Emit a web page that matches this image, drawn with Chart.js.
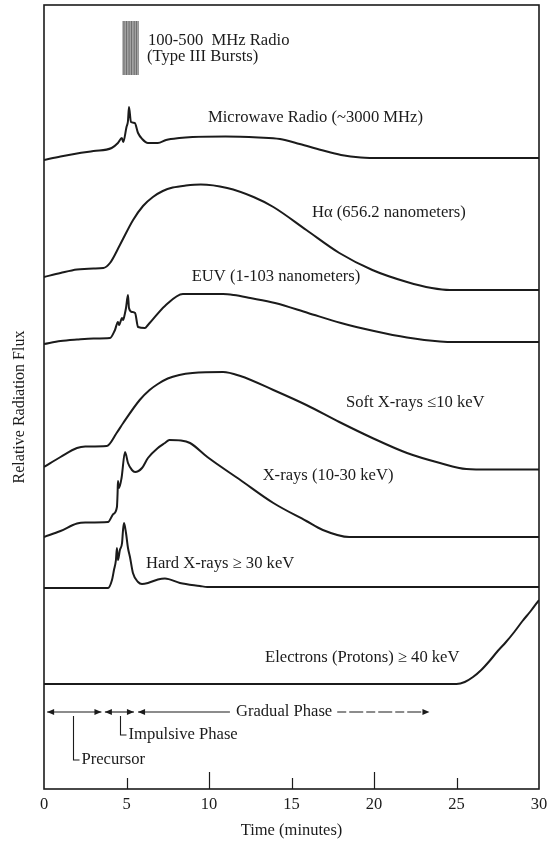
<!DOCTYPE html>
<html>
<head>
<meta charset="utf-8">
<script src="https://cdn.jsdelivr.net/npm/chart.js@4.4.1/dist/chart.umd.min.js"></script>
<style>
  html, body { margin: 0; padding: 0; background: #ffffff; }
  canvas { display: block; }
</style>
</head>
<body>
<canvas id="flare" width="548" height="845"></canvas>
<script>
// Time axis (minutes)
const timeTicks = [0, 5, 10, 15, 20, 25, 30];

// Relative flux curves, [minutes, flux] pairs, each curve on its own offset
const microwave = [
  [0, 629], [1, 632.5], [2, 635.5], [3, 638], [4.1, 641], [4.48, 646], [4.72, 651], [4.8, 647],
  [5.0, 662], [5.09, 668], [5.15, 682], [5.27, 667], [5.5, 666], [5.7, 656], [5.95, 650],
  [6.3, 646], [6.9, 646], [7.4, 649], [8.2, 651], [9, 652], [11, 652.5], [13, 651.5],
  [14.3, 650], [15.5, 645], [16.8, 639], [18, 634], [19.2, 631.5], [20.5, 631], [30, 631]
];
const hAlpha = [
  [0, 512], [1, 516], [2, 519.5], [3, 520.5], [3.6, 521], [4.0, 526], [4.6, 544], [5.4, 569],
  [6.0, 583], [6.6, 592], [7.2, 598], [7.8, 601.5], [8.6, 603.5], [9.5, 604.5], [11.1, 601],
  [12.7, 592], [13.9, 582], [15.9, 559], [17.9, 536], [19.9, 519], [22, 507], [23.5, 501],
  [24.6, 499], [30, 499]
];
const euv = [
  [0, 445], [1, 448], [2, 449.5], [3, 450.5], [4.0, 451], [4.3, 459], [4.48, 467], [4.55, 464],
  [4.73, 471], [4.79, 469], [4.91, 476], [4.97, 481], [5.09, 494], [5.15, 481], [5.33, 477],
  [5.52, 476], [5.7, 462], [6.12, 461], [6.3, 464], [7.33, 483], [8.42, 495], [10.85, 495],
  [11.5, 494], [12.5, 491], [14, 486], [16, 476], [18, 466], [20, 458], [22, 451.5],
  [24, 447.5], [25, 447], [30, 447]
];
const softXray = [
  [0, 322], [1, 332], [2, 341], [2.5, 342.5], [3.8, 343], [4.4, 356], [4.8, 366], [5.8, 389],
  [6.4, 399], [6.9, 405], [7.5, 410.5], [8.2, 414], [9, 416], [10.85, 417], [11.9, 413],
  [13.9, 399], [15.9, 384], [17.9, 367], [19.9, 351], [22, 336], [24, 326], [25.6, 320],
  [27, 319.5], [30, 319.5]
];
const xray = [
  [0, 252], [1, 258], [2, 265.5], [2.5, 266.5], [3.88, 267], [4.2, 275], [4.42, 282], [4.46, 296],
  [4.48, 308], [4.55, 301], [4.7, 311], [4.91, 337], [5.09, 326], [5.33, 319], [5.52, 317],
  [5.94, 321], [6.3, 331], [6.9, 341], [7.33, 346], [7.6, 349], [8.3, 348.5], [8.85, 346],
  [9.9, 332], [11.9, 309], [13.9, 286], [15.9, 268], [16.9, 259], [18.5, 252], [30, 252]
];
const hardXray = [
  [0, 201], [3.88, 201], [4.12, 209], [4.24, 219], [4.36, 229], [4.42, 241], [4.48, 229],
  [4.6, 239], [4.73, 246], [4.79, 259], [4.85, 266], [4.97, 256], [5.09, 241], [5.21, 232],
  [5.39, 216], [5.7, 207], [5.94, 205], [6.3, 206], [6.9, 209.5], [7.33, 210.5], [8.24, 206],
  [9.45, 203], [9.9, 202], [30, 202]
];
const electrons = [
  [0, 105], [25, 105], [25.5, 107], [26, 112], [26.5, 119], [27, 128], [27.5, 138],
  [28, 147], [28.5, 157], [29, 168], [29.5, 178], [30, 189]
];

// Type III radio bursts: individual burst times and the flux band they span
const burstTimes = [4.8, 4.9, 5.0, 5.1, 5.2, 5.3, 5.4, 5.5, 5.6, 5.7];
const burstLow = 714;
const burstHigh = 768;

// Flare phases (minutes)
const phaseNames = ['Precursor', 'Impulsive Phase', 'Gradual Phase'];
const phaseStart = [0.19, 3.69, 5.70];
const phaseEnd = [3.48, 5.45, 23.36];

const ink = '#1b1b1b';
const serif = '"Liberation Serif", "Times New Roman", serif';

const toXY = arr => arr.map(([x, y]) => ({ x, y }));

function burstSegments() {
  const pts = [];
  burstTimes.forEach(t => {
    pts.push({ x: t, y: burstLow }, { x: t, y: burstHigh }, { x: t, y: null });
  });
  return pts;
}

function arrowHead(ctx, x, y, dir) {
  ctx.beginPath();
  ctx.moveTo(x, y);
  ctx.lineTo(x - dir * 7, y - 3);
  ctx.lineTo(x - dir * 7, y + 3);
  ctx.closePath();
  ctx.fill();
}

// Frame, inward ticks, axis caption, curve captions and the phase arrows
const decor = {
  id: 'decor',
  afterDatasetsDraw(chart, args, opts) {
    const { ctx, chartArea: a, scales: { x, y } } = chart;
    ctx.save();
    ctx.strokeStyle = ink;
    ctx.fillStyle = ink;
    ctx.lineWidth = 1.6;
    ctx.strokeRect(a.left, a.top, a.right - a.left, a.bottom - a.top);

    ctx.lineWidth = 1.2;
    x.ticks.forEach(tk => {
      if (tk.value <= x.min || tk.value >= x.max) return;
      const px = Math.round(x.getPixelForValue(tk.value)) + 0.5;
      const len = tk.value % 10 === 0 ? opts.majorTick : opts.minorTick;
      ctx.beginPath();
      ctx.moveTo(px, a.bottom);
      ctx.lineTo(px, a.bottom - len);
      ctx.stroke();
    });

    // vertical axis caption
    ctx.save();
    ctx.font = opts.yTitleFont;
    ctx.textAlign = 'center';
    ctx.textBaseline = 'middle';
    ctx.translate(opts.yTitleX, y.getPixelForValue(opts.yTitleV));
    ctx.rotate(-Math.PI / 2);
    ctx.fillText(opts.yTitle, 0, 0);
    ctx.restore();

    ctx.font = opts.font;
    ctx.textBaseline = 'middle';
    ctx.textAlign = 'left';
    opts.captions.forEach(c => {
      ctx.fillText(c.text, x.getPixelForValue(c.t), y.getPixelForValue(c.v));
    });

    // phase arrows
    const ay = y.getPixelForValue(opts.phaseLevel);
    ctx.lineWidth = 1.1;
    for (let i = 0; i < phaseNames.length; i++) {
      const x1 = x.getPixelForValue(phaseStart[i]);
      const x2 = x.getPixelForValue(phaseEnd[i]);
      if (i < 2) {
        ctx.beginPath(); ctx.moveTo(x1, ay); ctx.lineTo(x2, ay); ctx.stroke();
      } else {
        const w = ctx.measureText(phaseNames[i]).width;
        const cx = x.getPixelForValue(opts.gradualCenter);
        ctx.textAlign = 'center';
        ctx.fillText(phaseNames[i], cx, ay);
        ctx.textAlign = 'left';
        ctx.beginPath(); ctx.moveTo(x1, ay); ctx.lineTo(cx - w / 2 - 6, ay); ctx.stroke();
        ctx.setLineDash([9, 3, 14, 3]);
        ctx.beginPath(); ctx.moveTo(cx + w / 2 + 5, ay); ctx.lineTo(x2 - 4, ay); ctx.stroke();
        ctx.setLineDash([]);
      }
      arrowHead(ctx, x1, ay, -1);
      arrowHead(ctx, x2, ay, 1);
    }

    // leaders to the precursor and impulsive labels
    opts.leaders.forEach(l => {
      const lx = Math.round(x.getPixelForValue(l.t)) + 0.5;
      const ly = y.getPixelForValue(l.v);
      ctx.beginPath();
      ctx.moveTo(lx, ay + 4);
      ctx.lineTo(lx, ly);
      ctx.lineTo(lx + 6, ly);
      ctx.stroke();
      ctx.fillText(phaseNames[l.phase], lx + 8, ly);
    });
    ctx.restore();
  }
};

const curve = (data) => ({
  data: toXY(data),
  borderColor: ink,
  borderWidth: 2,
  pointRadius: 0,
  cubicInterpolationMode: 'monotone',
  fill: false
});

new Chart(document.getElementById('flare'), {
  type: 'line',
  data: {
    datasets: [
      {
        data: burstSegments(),
        borderColor: '#6f6f6f',
        borderWidth: 1.3,
        pointRadius: 0,
        tension: 0,
        spanGaps: false,
        fill: false
      },
      curve(microwave),
      curve(hAlpha),
      curve(euv),
      curve(softXray),
      curve(xray),
      curve(hardXray),
      curve(electrons)
    ]
  },
  options: {
    responsive: false,
    animation: false,
    devicePixelRatio: 1,
    layout: { padding: { top: 5, right: 9, bottom: 0, left: 0 } },
    plugins: {
      legend: { display: false },
      tooltip: { enabled: false },
      decor: {
        font: '16.6px ' + serif,
        yTitle: 'Relative Radiation Flux',
        yTitleFont: '16px ' + serif,
        yTitleX: 20,
        yTitleV: 382,
        majorTick: 17,
        minorTick: 11,
        phaseLevel: 77,
        gradualCenter: 14.55,
        leaders: [
          { phase: 0, t: 1.78, v: 29 },
          { phase: 1, t: 4.6, v: 54 }
        ],
        captions: [
          { text: '100-500  MHz Radio', t: 6.3, v: 748 },
          { text: '(Type III Bursts)', t: 6.24, v: 732 },
          { text: 'Microwave Radio (~3000 MHz)', t: 9.94, v: 671 },
          { text: 'H\u03B1 (656.2 nanometers)', t: 16.24, v: 576 },
          { text: 'EUV (1-103 nanometers)', t: 8.95, v: 512 },
          { text: 'Soft X-rays \u226410 keV', t: 18.3, v: 386 },
          { text: 'X-rays (10-30 keV)', t: 13.25, v: 313 },
          { text: 'Hard X-rays \u2265 30 keV', t: 6.18, v: 225 },
          { text: 'Electrons (Protons) \u2265 40 keV', t: 13.4, v: 131 }
        ]
      }
    },
    scales: {
      x: {
        type: 'linear',
        min: timeTicks[0],
        max: timeTicks[timeTicks.length - 1],
        afterFit: s => { s.height = 56; s.paddingLeft = 0; s.paddingRight = 0; },
        afterBuildTicks: s => { s.ticks = timeTicks.map(v => ({ value: v })); },
        ticks: { padding: 6, color: ink, font: { family: serif, size: 16.5 } },
        grid: { display: false, drawTicks: false },
        border: { display: false },
        title: {
          display: true,
          text: 'Time (minutes)',
          color: ink,
          font: { family: serif, size: 16.5 },
          padding: { top: 0, bottom: 4 }
        }
      },
      y: {
        type: 'linear',
        min: 0,
        max: 784,
        afterFit: s => { s.width = 44; },
        ticks: { display: false },
        grid: { display: false, drawTicks: false },
        border: { display: false },
        title: { display: false }
      }
    }
  },
  plugins: [decor]
});
</script>
</body>
</html>
